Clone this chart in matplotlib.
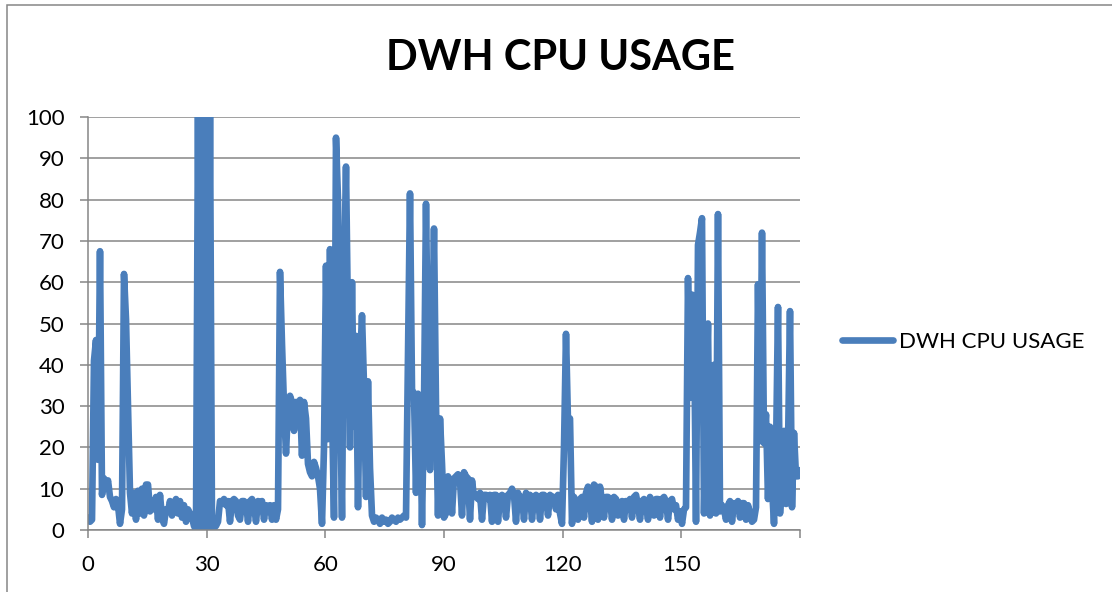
import numpy as np
import matplotlib
matplotlib.use("Agg")
import matplotlib.pyplot as plt
from matplotlib.patches import Rectangle

title = "DWH CPU USAGE"
series_name = "DWH CPU USAGE"

# CPU usage samples, evenly spaced over 0..180
cpu_usage = [
    3, 2, 2.5, 41, 46, 17, 67.5, 8.5, 12.5, 10,
    12, 8, 7, 5.5, 7.5, 6, 1.5, 5, 62, 51,
    30, 9, 4, 9, 2.5, 9.5, 4, 10, 3.5, 11,
    11, 4.5, 7, 5, 8, 2.5, 8.5, 3, 1.5, 5,
    4.5, 7, 3.5, 6.5, 7.5, 4, 7, 3, 6, 2,
    5, 4, 3, 1, 0, 100, 0, 100, 0, 100,
    0, 100, 0, 0.5, 1, 2, 7, 6.5, 7.5, 6,
    7, 2, 7, 7.5, 7, 3.5, 2.5, 7, 7, 6.5,
    2, 7, 7.5, 6, 2, 7, 6.5, 7, 2.5, 6,
    5.5, 6, 2.5, 6, 2.5, 5, 62.5, 45, 30, 18.5,
    30, 32.5, 31, 24, 31, 30, 31.5, 18, 31, 27,
    16, 14, 13, 16.5, 15, 13, 10, 1.5, 20, 64,
    22, 68, 30, 3, 95, 80, 35, 3, 60, 88,
    50, 20, 60, 25, 47, 5.5, 40, 52, 35, 8,
    36, 15, 3.5, 2, 3, 2.5, 1.5, 3, 2, 2.5,
    1.5, 2, 3, 2.5, 2, 3, 2.5, 3, 3.5, 3,
    42, 81.5, 34, 33, 9, 33, 32, 1.2, 30, 79,
    40, 14.5, 40, 73, 30, 3.5, 27, 16, 3, 4,
    13, 12, 4, 12.5, 13, 13.5, 12, 3.5, 14, 13,
    12.5, 2.5, 12, 8, 8.5, 7.5, 9, 2.5, 8.5, 8.5,
    7.5, 8.5, 2, 8.5, 8.5, 2, 8, 8.5, 8, 3,
    8.5, 9, 10, 8.5, 2, 9, 7.5, 8, 2.5, 9,
    8, 8.5, 2.5, 8, 8.5, 8, 2.5, 8.5, 8.5, 8,
    3.5, 8.5, 8, 8, 5, 8.5, 4, 1.5, 20, 47.5,
    26, 27, 1.5, 8, 6.5, 2.5, 7.5, 8, 3, 9,
    10.5, 8, 2, 11, 10.5, 2.5, 10.5, 7, 3, 8,
    8, 7.5, 2.5, 8, 7.5, 3.5, 6.5, 7, 2.5, 7,
    6.5, 7.5, 3, 8, 8.5, 6, 2.5, 7, 7.5, 6,
    2.5, 8, 7, 3.5, 7.5, 7.5, 3, 7.5, 8, 7,
    2.5, 7, 7.5, 5, 6, 2.5, 4.5, 1.5, 5, 5.5,
    61, 32, 57, 52, 2, 69, 72, 75.5, 4, 30,
    50, 3.5, 20, 40, 4, 76.5, 4.5, 6, 5, 2.5,
    6, 7, 2, 6.5, 6, 7, 3, 6.5, 6.5, 2.5,
    6, 4, 2, 2.5, 5.5, 59.5, 21.5, 72, 21, 28,
    7.5, 25, 10.5, 1.5, 18.5, 54, 4, 14, 24, 6.3,
    20, 53, 5.5, 23.5, 13, 13, 14.5,
]
sample_x = np.linspace(0, 180, len(cpu_usage))

x_ticks = [0, 30, 60, 90, 120, 150, 180]
x_tick_labels = ["0", "30", "60", "90", "120", "150", ""]
y_ticks = [0, 10, 20, 30, 40, 50, 60, 70, 80, 90, 100]

LINE = "#4A7EBB"
GRID = "#868686"
FONT = ["Lato", "DejaVu Sans"]

W, H = 1112, 592
fig = plt.figure(figsize=(W / 100, H / 100), dpi=100)
fig.patch.set_facecolor("white")

# outer chart border
fig.patches.append(Rectangle((7 / W, -0.05), 1.2, 1 - 5 / H + 0.05,
                             transform=fig.transFigure, fill=False,
                             edgecolor=GRID, linewidth=1.1))

ax = fig.add_axes([88 / W, (H - 530) / H, 712 / W, 413 / H])
ax.plot(sample_x, cpu_usage, color=LINE, linewidth=4.8,
        solid_joinstyle="round", solid_capstyle="round", label=series_name)

ax.set_xlim(0, 180)
ax.set_ylim(0, 100)
ax.set_xticks(x_ticks)
ax.set_xticklabels(x_tick_labels)
ax.set_yticks(y_ticks)
ax.yaxis.grid(True, color=GRID, linewidth=1.1)
ax.set_axisbelow(True)
for s in ["top", "right"]:
    ax.spines[s].set_visible(False)
for s in ["left", "bottom"]:
    ax.spines[s].set_color(GRID)
    ax.spines[s].set_linewidth(1.1)
ax.tick_params(axis="both", colors=GRID, width=1.1, length=6,
               labelcolor="black", labelsize=16)
ax.tick_params(axis="y", pad=11)
ax.tick_params(axis="x", pad=12)
for lab in ax.get_xticklabels() + ax.get_yticklabels():
    lab.set_family(FONT)

fig.text(560 / W, 1 - 58 / H, title, ha="center", va="center",
         fontsize=30, fontweight="bold", family=FONT)

leg = fig.legend(loc="center left", bbox_to_anchor=(842 / W, 1 - 342 / H),
                 bbox_transform=fig.transFigure, frameon=False,
                 borderpad=0, borderaxespad=0, handlelength=2.3,
                 handletextpad=0.25, prop={"family": FONT, "size": 16})

fig.savefig("out.png", dpi=100, facecolor="white")
